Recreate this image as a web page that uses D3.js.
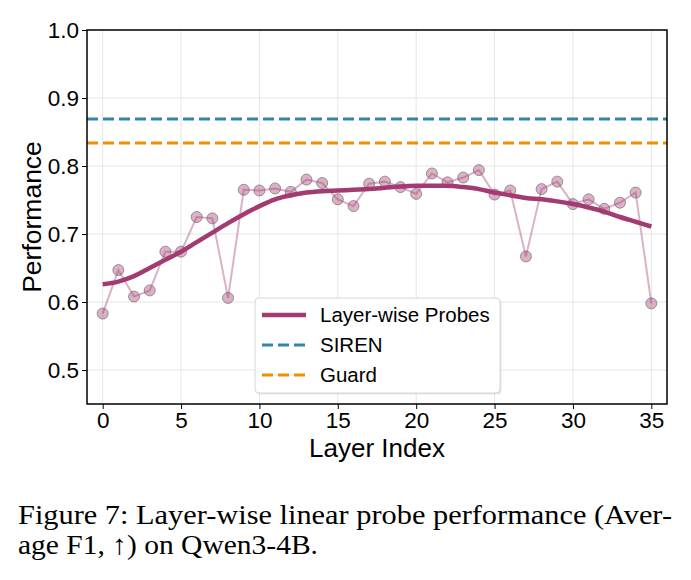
<!DOCTYPE html>
<html>
<head>
<meta charset="utf-8">
<script src="https://cdn.jsdelivr.net/npm/d3@7"></script>
<style>
  body { margin: 0; background: #fff; }
  text { font-family: "Liberation Sans", Arial, sans-serif; }
</style>
</head>
<body>
<div id="chart"></div>
<script>
// per-layer probe scores
const layers = d3.range(0, 36);
const probeScores = [0.583, 0.647, 0.608, 0.617, 0.674, 0.674, 0.725, 0.723, 0.606, 0.765,
    0.764, 0.767, 0.762, 0.780, 0.775, 0.751, 0.741, 0.774, 0.777, 0.769,
    0.759, 0.789, 0.776, 0.783, 0.794, 0.758, 0.764, 0.667, 0.766, 0.777,
    0.744, 0.751, 0.737, 0.746, 0.761, 0.598];
// smoothed trend line
const smoothScores = [0.626, 0.630, 0.638, 0.650, 0.662, 0.674, 0.688, 0.702, 0.716, 0.729,
    0.741, 0.751, 0.757, 0.761, 0.763, 0.764, 0.765, 0.766, 0.768, 0.770,
    0.771, 0.771, 0.771, 0.769, 0.766, 0.761, 0.757, 0.753, 0.751, 0.748,
    0.744, 0.739, 0.733, 0.725, 0.718, 0.711];
const baselines = [
    { name: 'SIREN', value: 0.869, color: '#2E86AB' },
    { name: 'Guard', value: 0.834, color: '#F18F01' }
];
const yTicks = [0.5, 0.6, 0.7, 0.8, 0.9, 1.0];
const xTicks = [0, 5, 10, 15, 20, 25, 30, 35];
const captionLines = ['Figure 7: Layer-wise linear probe performance (Aver-', 'age F1, \u2191) on Qwen3-4B.'];
const captionWidths = [654, 300];

const width = 691, height = 580;
const plot = { left: 87, right: 667, top: 30, bottom: 404 };
const probeColor = '#A23B72';

const svg = d3.select('#chart').append('svg')
    .attr('width', width)
    .attr('height', height);

svg.append('rect').attr('width', width).attr('height', height).attr('fill', '#fff');

const x = d3.scaleLinear().domain([-1, 36]).range([plot.left, plot.right]);
const y = d3.scaleLinear().domain([0.45, 1.0]).range([plot.bottom, plot.top]);

// grid
const grid = svg.append('g').attr('class', 'grid');
grid.selectAll('line.gx').data(xTicks).join('line')
    .attr('x1', d => x(d)).attr('x2', d => x(d))
    .attr('y1', plot.top).attr('y2', plot.bottom)
    .attr('stroke', '#e6e6e6').attr('stroke-width', 1);
grid.selectAll('line.gy').data(yTicks).join('line')
    .attr('x1', plot.left).attr('x2', plot.right)
    .attr('y1', d => y(d)).attr('y2', d => y(d))
    .attr('stroke', '#e6e6e6').attr('stroke-width', 1);

// baselines
svg.append('g').selectAll('line').data(baselines).join('line')
    .attr('x1', plot.left).attr('x2', plot.right)
    .attr('y1', d => y(d.value)).attr('y2', d => y(d.value))
    .attr('stroke', d => d.color)
    .attr('stroke-width', 3)
    .attr('stroke-dasharray', '11,5');

// raw probe line + points
const rawLine = d3.line().x((d, i) => x(layers[i])).y(d => y(d));
svg.append('path')
    .attr('d', rawLine(probeScores))
    .attr('fill', 'none')
    .attr('stroke', probeColor)
    .attr('stroke-opacity', 0.4)
    .attr('stroke-width', 2);

svg.append('g').selectAll('circle').data(probeScores).join('circle')
    .attr('cx', (d, i) => x(layers[i]))
    .attr('cy', d => y(d))
    .attr('r', 5.5)
    .attr('fill', probeColor)
    .attr('fill-opacity', 0.4)
    .attr('stroke', '#666')
    .attr('stroke-opacity', 0.8)
    .attr('stroke-width', 0.8);

// smoothed trend
const smoothLine = d3.line().curve(d3.curveMonotoneX)
    .x((d, i) => x(layers[i])).y(d => y(d));
svg.append('path')
    .attr('d', smoothLine(smoothScores))
    .attr('fill', 'none')
    .attr('stroke', probeColor)
    .attr('stroke-width', 4.5)
    .attr('stroke-linecap', 'butt');

// axes
const xAxis = svg.append('g')
    .attr('transform', `translate(0,${plot.bottom})`)
    .call(d3.axisBottom(x).tickValues(xTicks).tickSize(5).tickPadding(3).tickFormat(d3.format('d')));
const yAxis = svg.append('g')
    .attr('transform', `translate(${plot.left},0)`)
    .call(d3.axisLeft(y).tickValues(yTicks).tickSize(5).tickPadding(3).tickFormat(d3.format('.1f')));
[xAxis, yAxis].forEach(a => {
    a.select('.domain').remove();
    a.selectAll('text').attr('font-size', 22.5).attr('fill', '#000')
        .style('font-family', '"Liberation Sans", Arial, sans-serif');
    a.selectAll('line').attr('stroke', '#000').attr('stroke-width', 1);
});

// frame
svg.append('rect')
    .attr('x', plot.left).attr('y', plot.top)
    .attr('width', plot.right - plot.left).attr('height', plot.bottom - plot.top)
    .attr('fill', 'none').attr('stroke', '#000').attr('stroke-width', 1.5);

// axis labels
svg.append('text')
    .attr('x', 377).attr('y', 457)
    .attr('text-anchor', 'middle').attr('font-size', 26)
    .text('Layer Index');
svg.append('text')
    .attr('transform', `translate(41,${(plot.top + plot.bottom) / 2}) rotate(-90)`)
    .attr('text-anchor', 'middle').attr('font-size', 26.5)
    .text('Performance');

// legend
const legendItems = [
    { name: 'Layer-wise Probes', color: probeColor, dash: null, w: 4.5 },
    { name: baselines[0].name, color: baselines[0].color, dash: '11,5', w: 3 },
    { name: baselines[1].name, color: baselines[1].color, dash: '11,5', w: 3 }
];
const legend = svg.append('g').attr('transform', 'translate(255,298)');
legend.append('rect')
    .attr('x', 1.5).attr('y', 1.5).attr('width', 245).attr('height', 95).attr('rx', 4)
    .attr('fill', '#ccc').attr('opacity', 0.5);
legend.append('rect')
    .attr('width', 245).attr('height', 95).attr('rx', 4)
    .attr('fill', '#fff').attr('stroke', '#d6d6d6').attr('stroke-width', 1);
const rows = legend.selectAll('g.row').data(legendItems).join('g')
    .attr('transform', (d, i) => `translate(0,${17 + i * 30})`);
rows.append('line')
    .attr('x1', 7).attr('x2', 51).attr('y1', 0).attr('y2', 0)
    .attr('stroke', d => d.color).attr('stroke-width', d => d.w)
    .attr('stroke-dasharray', d => d.dash);
rows.append('text')
    .attr('x', 65).attr('y', 0).attr('dy', '0.35em')
    .attr('font-size', 20.5)
    .text(d => d.name);

// caption
svg.append('g').selectAll('text').data(captionLines).join('text')
    .attr('x', 18).attr('y', (d, i) => 524 + i * 30)
    .style('font-family', '"Liberation Serif", "Times New Roman", serif')
    .attr('font-size', 28)
    .attr('textLength', (d, i) => captionWidths[i])
    .attr('lengthAdjust', 'spacingAndGlyphs')
    .text(d => d);
</script>
</body>
</html>
